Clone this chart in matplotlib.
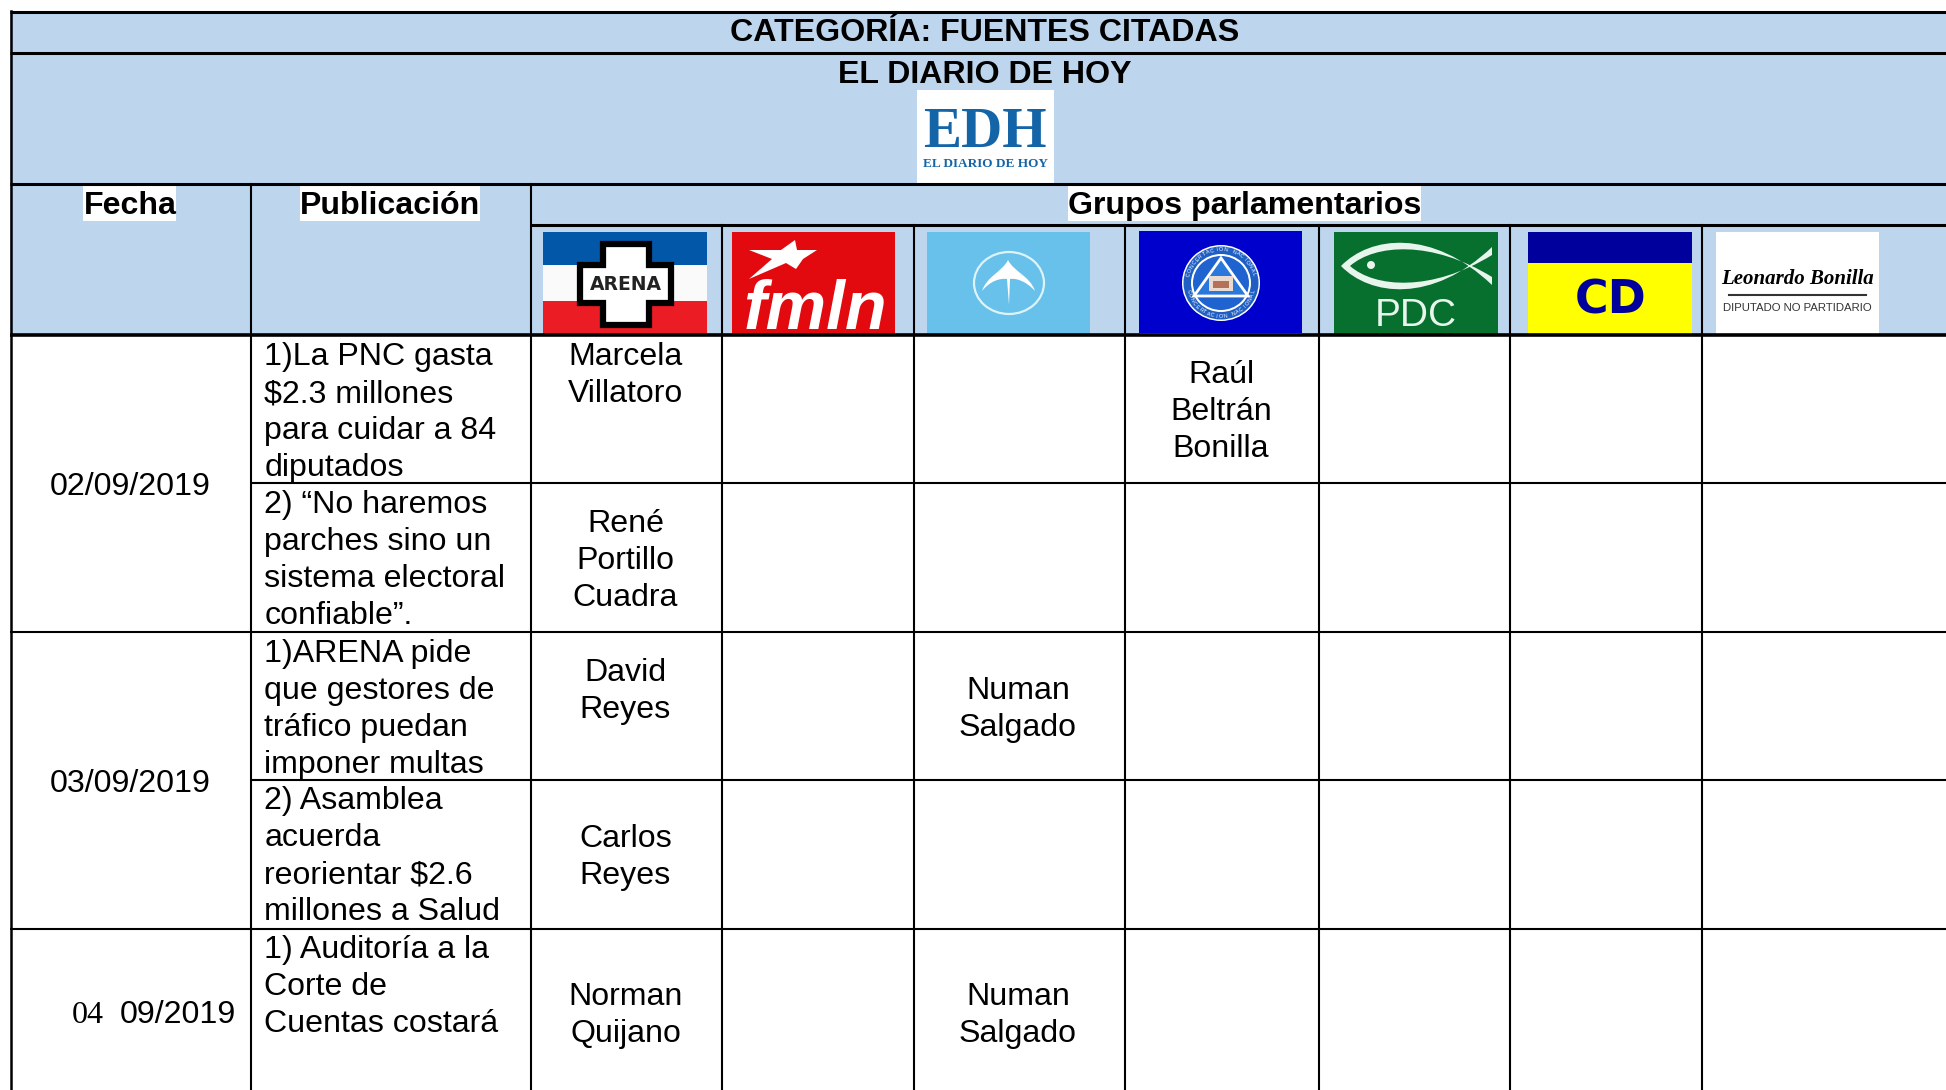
import numpy as np
import matplotlib
matplotlib.use("Agg")
import matplotlib.pyplot as plt
from matplotlib.patches import Rectangle, Polygon, Ellipse, PathPatch
from matplotlib.path import Path

plt.rcParams['font.family'] = ['Liberation Sans', 'DejaVu Sans']

# table content
title = "CATEGORÍA: FUENTES CITADAS"
newspaper = "EL DIARIO DE HOY"
col_heads = ["Fecha", "Publicación", "Grupos parlamentarios"]
dates = ["02/09/2019", "03/09/2019"]
last_date = ["04", "09/2019"]
publications = [
    ["1)La PNC gasta", "$2.3 millones", "para cuidar a 84", "diputados"],
    ["2) “No haremos", "parches sino un", "sistema electoral", "confiable”."],
    ["1)ARENA pide", "que gestores de", "tráfico puedan", "imponer multas"],
    ["2) Asamblea", "acuerda", "reorientar $2.6", "millones a Salud"],
    ["1) Auditoría a la", "Corte de", "Cuentas costará"],
]
sources_arena = [["Marcela", "Villatoro"], ["René", "Portillo", "Cuadra"], ["David", "Reyes"],
                 ["Carlos", "Reyes"], ["Norman", "Quijano"]]
sources_other = [["Numan", "Salgado"], ["Numan", "Salgado"]]
source_cn = ["Raúl", "Beltrán", "Bonilla"]

# layout in pixels of the page
W, H = 1946, 1090
col_x = [250.5, 530.5, 722, 914, 1125, 1319, 1510, 1702]
row_y = [334, 483, 632, 780, 929]
LH = 37.1
HEAD = "#BDD6EE"
FS = 23.1

fig = plt.figure(figsize=(W / 100, H / 100), dpi=100)
ax = fig.add_axes([0, 0, 1, 1])
ax.set_xlim(0, W)
ax.set_ylim(H, 0)
ax.axis("off")


def rect(x0, y0, x1, y1, color, z=2):
    ax.add_patch(Rectangle((x0, y0), x1 - x0, y1 - y0, fc=color, ec="none", zorder=z))


def put(x, y, s, size=FS, ha="center", color="black", weight="normal", z=5, **kw):
    ax.text(x, y, s, fontsize=size, ha=ha, va="baseline", color=color, weight=weight, zorder=z, **kw)


def lines(x, y, txt, ha="center"):
    for i, t in enumerate(txt):
        put(x, y + i * LH, t, ha=ha)


# header background
rect(10, 11, W, 334, HEAD, z=1)

# grid
for y, x0, lw in [(12, 10, 2.2), (53, 10, 2.2), (184, 10, 2.2), (225, 530, 2.2), (335, 10, 2.6)]:
    ax.plot([x0, W], [y, y], color="black", lw=lw, zorder=3, solid_capstyle="butt")
# the date column spans two rows, so rows 1 and 3 start after it
for i, y in enumerate(row_y[1:]):
    x0 = col_x[0] if i in (0, 2) else 10
    ax.plot([x0, W], [y, y], color="black", lw=1.5, zorder=3, solid_capstyle="butt")
ax.plot([10.5, 10.5], [11, H], color="black", lw=1.8, zorder=3)
for i, x in enumerate(col_x):
    y0 = 184 if i < 2 else 225
    ax.plot([x, x], [y0, H], color="black", lw=1.5, zorder=3)

# header text
put(985, 41, title, weight="bold")
put(985, 83, newspaper, weight="bold")
for (x0, x1), cx, t in zip([(83, 176), (300, 480), (1068, 1421)], [130, 390, 1245], col_heads):
    rect(x0, 185, x1, 221, "white", z=2)
    put(cx, 214, t, weight="bold")

# EDH logo
rect(916.5, 90, 1054, 183, "white")
put(985, 147, "EDH", size=41, color="#1465A8", family="Liberation Serif", weight="bold")
put(985, 167, "EL DIARIO DE HOY", size=9.5, color="#1465A8", family="Liberation Serif", weight="bold")

# ARENA
rect(543, 232, 707, 334, "#0257A8")
rect(543, 265, 707, 301, "#FAFAFA")
rect(543, 301, 707, 334, "#EC1C24")
cross = [(603, 244), (649, 244), (649, 265), (671, 265), (671, 303), (649, 303), (649, 325),
         (603, 325), (603, 303), (580, 303), (580, 265), (603, 265)]
ax.add_patch(Polygon(cross, closed=True, fc="white", ec="black", lw=4.5, zorder=3, joinstyle="miter"))
put(625.5, 289.5, "ARENA", size=13.5, weight="bold", color="#222222", family="DejaVu Sans")

# FMLN
rect(732, 232, 895, 335, "#E20A0E")
star = [(795, 240), (797, 250), (817, 250), (803, 259), (796, 269), (786, 263), (749, 279), (772, 259),
        (749, 250), (781, 250)]
ax.add_patch(Polygon(star, closed=True, fc="white", ec="none", zorder=3))
put(815, 329, "fmln", size=49, color="white", weight="bold", style="italic")

# swallow
rect(927, 232, 1090, 334, "#68C1EA")
ax.add_patch(Ellipse((1009, 283), 70, 62, fc="none", ec="#DDF3F8", lw=1.6, zorder=3))
wing = Path([(1008, 260), (1014, 272), (1030, 276), (1035, 291), (1026, 281), (1016, 278), (1010, 279),
             (1009, 305), (1007, 279), (1000, 278), (990, 281), (982, 291), (987, 276), (1002, 272), (1008, 260)],
            [Path.MOVETO, Path.CURVE4, Path.CURVE4, Path.CURVE4, Path.CURVE4, Path.CURVE4, Path.CURVE4,
             Path.LINETO, Path.LINETO, Path.CURVE4, Path.CURVE4, Path.CURVE4, Path.CURVE4, Path.CURVE4, Path.CURVE4])
ax.add_patch(PathPatch(wing, fc="white", ec="none", zorder=3))

# Concertacion
rect(1139, 231, 1302, 333, "#0000CC")
ax.add_patch(Ellipse((1221, 283), 78, 76, fc="white", ec="none", zorder=3))
ax.add_patch(Ellipse((1221, 283), 75, 73, fc="#1F5FC4", ec="none", zorder=3))
ax.add_patch(Ellipse((1221, 283), 60, 58, fc="white", ec="none", zorder=3))
ax.add_patch(Ellipse((1221, 283), 56, 54, fc="#1F63D0", ec="none", zorder=3))
ax.add_patch(Polygon([(1221, 258), (1248, 296), (1194, 296)], closed=True, fc="#2A78DC", ec="white", lw=2, zorder=4))
rect(1209, 276, 1233, 291, "#E9D9D0", z=5)
rect(1213, 281, 1229, 288, "#B5705A", z=5)
ring = "CONCERTACION NACIONAL"
for a0, a1 in [(165, 15), (195, 345)]:
    for ch, a in zip(ring, np.linspace(a0, a1, len(ring))):
        r = np.radians(a)
        rot = a - 90 if a < 180 else a + 90
        ax.text(1221 + 33.5 * np.cos(r), 283 - 33.5 * np.sin(r), ch, fontsize=3.8, color="white", ha="center",
                va="center", rotation=rot, zorder=5)

# PDC
rect(1334, 232, 1498, 334, "#07702F")
fish = Path([(1341, 266), (1370, 236), (1432, 228), (1492, 285), (1492, 277), (1432, 240), (1375, 244), (1350, 266),
             (1375, 288), (1432, 292), (1492, 255), (1492, 247), (1432, 304), (1370, 296), (1341, 266)],
            [Path.MOVETO, Path.CURVE4, Path.CURVE4, Path.CURVE4, Path.LINETO, Path.CURVE4, Path.CURVE4, Path.CURVE4,
             Path.CURVE4, Path.CURVE4, Path.CURVE4, Path.LINETO, Path.CURVE4, Path.CURVE4, Path.CURVE4])
ax.add_patch(PathPatch(fish, fc="#E8F5EC", ec="none", zorder=3))
ax.add_patch(Ellipse((1371, 265), 8, 8, fc="#E8F5EC", ec="none", zorder=3))
put(1416, 326, "PDC", size=28, color="#E8F5EC")

# CD
rect(1528, 232, 1692, 263, "#00009C")
rect(1528, 263, 1692, 334, "#FFFF00")
put(1611, 313, "CD", size=33, color="#00009C", weight="bold", family="DejaVu Sans")

# Leonardo Bonilla
rect(1716, 232, 1879, 334, "white")
put(1798, 284, "Leonardo Bonilla", size=15, style="italic", weight="bold", family="Liberation Serif")
ax.plot([1729, 1866], [295, 295], color="#333333", lw=1.5, zorder=4)
put(1797, 311, "DIPUTADO NO PARTIDARIO", size=8.2, color="#333333", family=["Liberation Sans Narrow", "Liberation Sans"])

# body
first_y = [365, 513, 662, 809, 958]
for t, y in zip(publications, first_y):
    lines(264.5, y, t, ha="left")

arena_y = [365, 532, 681, 847, 1005]
for t, y in zip(sources_arena, arena_y):
    lines(625.5, y, t)
lines(1221, 383, source_cn)
lines(1018, 699, sources_other[0])
lines(1018, 1005, sources_other[1])

put(130, 495, dates[0])
put(130, 792, dates[1])
put(88, 1023, last_date[0], family="Liberation Serif")
put(177.5, 1023, last_date[1])

fig.savefig("out.png", dpi=100, facecolor="white")
